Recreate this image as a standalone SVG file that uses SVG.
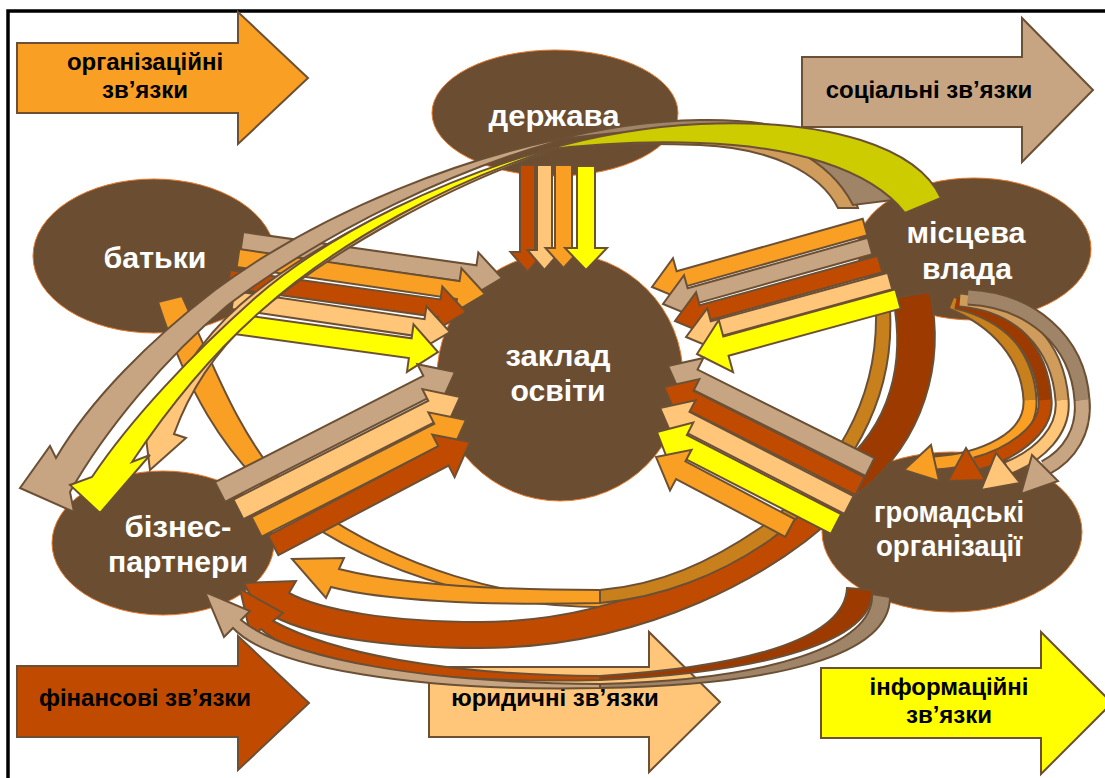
<svg xmlns="http://www.w3.org/2000/svg" width="1105" height="778" viewBox="0 0 1105 778">
<style>
.o{stroke:#6B5035;stroke-width:2;stroke-linejoin:miter}
.tan{fill:#C8A582}.org{fill:#F9A024}.dor{fill:#C04B00}.lor{fill:#FFC67A}.yel{fill:#FFFF00}
.ygr{fill:#CCCC00}.gtn{fill:#A08468}.lob{fill:#D09C5C}.gld{fill:#C8801C}.dob{fill:#9C3A00}
.node{fill:#6B4E31;stroke:#E8782A;stroke-width:1}
.nt{font-family:'Liberation Sans',Arial,sans-serif;font-weight:bold;font-size:30px;fill:#FFFFFF;text-anchor:middle}
.lt{font-family:'Liberation Sans',Arial,sans-serif;font-weight:bold;font-size:24px;fill:#000000;text-anchor:middle}
.sw{fill:none;stroke:#6B5035}
.sc{fill:none}
</style>
<rect x="0" y="0" width="1105" height="778" fill="#FFFFFF"/>
<path d="M8,780V11H1110" fill="none" stroke="#000000" stroke-width="3.5"/>

<g id="legend">
<g id="legend-org"><path class="o org" d="M17,43H238V12L308,78L238,144V113H17Z"/><text class="lt" x="145" y="70">організаційні</text><text class="lt" x="145" y="98">зв’язки</text></g>
<g id="legend-soc"><path class="o tan" d="M802,57H1022V18L1093,90L1022,162V127H802Z"/><text class="lt" x="929" y="98">соціальні зв’язки</text></g>
<g id="legend-fin"><path class="o dor" d="M17,666H238V636L309,703L238,770V737H17Z"/><text class="lt" x="145" y="706">фінансові зв’язки</text></g>
<g id="legend-jur"><path class="o lor" d="M429,667H649V632L720,702L649,772V737H429Z"/><text class="lt" x="555" y="706">юридичні зв’язки</text></g>
<g id="legend-inf"><path class="o yel" d="M821,668H1041V632L1112,703L1041,774V738H821Z"/><text class="lt" x="949" y="695">інформаційні</text><text class="lt" x="949" y="723">зв’язки</text></g>
</g>

<g id="node-derzhava"><ellipse class="node" cx="555" cy="113" rx="123" ry="63"/><text class="nt" x="554" y="126" textLength="131" lengthAdjust="spacingAndGlyphs">держава</text></g>
<g id="node-batky"><ellipse class="node" cx="154" cy="256" rx="121" ry="77"/><text class="nt" x="155" y="268" textLength="103" lengthAdjust="spacingAndGlyphs">батьки</text></g>
<g id="node-mistseva"><ellipse class="node" cx="974" cy="249" rx="117" ry="71"/><text class="nt" x="966" y="243" textLength="119" lengthAdjust="spacingAndGlyphs">місцева</text><text class="nt" x="967" y="279" textLength="90" lengthAdjust="spacingAndGlyphs">влада</text></g>
<g id="node-zaklad"><ellipse class="node" cx="560" cy="377" rx="123" ry="124"/><text class="nt" x="558" y="366" textLength="105" lengthAdjust="spacingAndGlyphs">заклад</text><text class="nt" x="558" y="401" textLength="95" lengthAdjust="spacingAndGlyphs">освіти</text></g>
<g id="node-biznes"><ellipse class="node" cx="163" cy="543" rx="111" ry="72"/><text class="nt" x="178" y="537" textLength="107" lengthAdjust="spacingAndGlyphs">бізнес-</text><text class="nt" x="178" y="572" textLength="140" lengthAdjust="spacingAndGlyphs">партнери</text></g>
<g id="node-hromadski"><ellipse class="node" cx="952" cy="532" rx="130" ry="80"/><text class="nt" x="949" y="522" textLength="150" lengthAdjust="spacingAndGlyphs">громадські</text><text class="nt" x="949" y="556" textLength="146" lengthAdjust="spacingAndGlyphs">організації</text></g>

<g id="connectors">
<g id="mv-go">
<path class="sw" stroke-width="15" d="M952,303C995,320 1028,355 1030,400C1032,440 980,460 935,463"/>
<path class="sc" stroke="#C8801C" stroke-width="11" d="M952,303C995,320 1028,355 1030,400"/>
<path class="sc" stroke="#F9A024" stroke-width="11" d="M1030,400C1032,440 980,460 935,463"/>
<path class="o org" d="M939,481L904,470L931,445Z"/>
<path class="sw" stroke-width="15" d="M956,302C1010,315 1042,350 1045,400C1048,430 1010,455 975,464"/>
<path class="sc" stroke="#9C3A00" stroke-width="11" d="M956,302C1010,315 1042,350 1045,400"/>
<path class="sc" stroke="#C04B00" stroke-width="11" d="M1045,400C1048,430 1010,455 975,464"/>
<path class="o dor" d="M985,480L948,481L966,448Z"/>
<path class="sw" stroke-width="15" d="M960,300C1020,305 1058,345 1062,400C1065,430 1040,455 1008,468"/>
<path class="sc" stroke="#D09C5C" stroke-width="11" d="M960,300C1020,305 1058,345 1062,400"/>
<path class="sc" stroke="#FFC67A" stroke-width="11" d="M1062,400C1065,430 1040,455 1008,468"/>
<path class="o lor" d="M1020,483L981,490L996,453Z"/>
<path class="sw" stroke-width="17" d="M968,297C1030,300 1078,340 1082,400C1085,430 1070,455 1045,468"/>
<path class="sc" stroke="#A08468" stroke-width="13" d="M968,297C1030,300 1078,340 1082,400"/>
<path class="sc" stroke="#C8A582" stroke-width="13" d="M1082,400C1085,430 1070,455 1045,468"/>
<path class="o tan" d="M1058,481L1021,494L1032,455Z"/>
</g>

<g id="bt-mv">
<path class="o org" d="M158,302L182,296C212,362 240,440 290,490C390,570 520,603 620,600C720,597 800,550 850,478L856,483C806,556 724,606 620,607C515,610 380,582 280,502C222,452 186,388 158,302Z"/>
</g>
<g id="mv-bp-dark">
<path class="o dob" d="M930,292C945,362 925,440 860,492L835,470C893,425 905,360 893,298Z"/>
<path class="o dor" d="M835,470C760,555 620,622 480,622C390,622 320,610 289,593L296,581L244,583L268,629L275,617C310,635 380,648 480,648C640,648 780,578 860,492Z"/>
</g>
<g id="mv-bp-orange">
<path class="o gld" d="M876,312L890,310C895,400 850,480 770,540C720,575 660,598 600,603L600,590C660,585 710,562 760,528C835,475 878,400 876,312Z"/>
<path class="o org" d="M600,590C480,590 390,582 339,569L344,558L292,559L326,598L331,587C380,600 480,606 600,603Z"/>
</g>

<g id="dz-zo">
<path class="o dor" transform="translate(527.5,165) rotate(90)" d="M0,-7.5H87V-17L107,0L87,17V7.5H0Z"/>
<path class="o lor" transform="translate(544.5,165) rotate(90)" d="M0,-7.5H85V-17L105,0L85,17V7.5H0Z"/>
<path class="o org" transform="translate(563.5,165) rotate(90)" d="M0,-8.5H83V-18L103,0L83,18V8.5H0Z"/>
<path class="o yel" transform="translate(586,166) rotate(90)" d="M0,-9H82V-21L104,0L82,21V9H0Z"/>
</g>
<g id="bt-zo">
<path class="o tan" transform="translate(242,241) rotate(8.1)" d="M0,-9H235.6V-22L262.6,0L235.6,22V9H0Z"/>
<path class="o org" transform="translate(238,258) rotate(8.29)" d="M0,-9H222.6V-22L249.6,0L222.6,22V9H0Z"/>
<path class="o dor" transform="translate(229,279) rotate(7.93)" d="M0,-9H212.3V-22L239.3,0L212.3,22V9H0Z"/>
<path class="o lor" transform="translate(233,300) rotate(8.39)" d="M0,-9H192.3V-22L219.3,0L192.3,22V9H0Z"/>
<path class="o yel" transform="translate(235,324) rotate(7.85)" d="M0,-10H176.9V-24L204.9,0L176.9,24V10H0Z"/>
</g>
<g id="mv-zo">
<path class="o org" transform="translate(865,227) rotate(164.27)" d="M0,-8.5H193.3V-22L221.3,0L193.3,22V8.5H0Z"/>
<path class="o tan" transform="translate(870,246) rotate(164.35)" d="M0,-8.5H187V-22L215,0L187,22V8.5H0Z"/>
<path class="o dor" transform="translate(880,264) rotate(164.46)" d="M0,-8.5H184.8V-22L212.8,0L184.8,22V8.5H0Z"/>
<path class="o lor" transform="translate(890,281) rotate(164.65)" d="M0,-8.5H183.5V-22L211.5,0L183.5,22V8.5H0Z"/>
<path class="o yel" transform="translate(898,299) rotate(164.7)" d="M0,-10H178.4V-27L208.4,0L178.4,27V10H0Z"/>
</g>
<g id="bp-zo">
<path class="o tan" transform="translate(220,492) rotate(-27.05)" d="M0,-11H233.9V-24L263.9,0L233.9,24V11H0Z"/>
<path class="o lor" transform="translate(238.4,509.4) rotate(-26.9)" d="M0,-11H218.5V-24L248.5,0L218.5,24V11H0Z"/>
<path class="o org" transform="translate(256.6,526.9) rotate(-27.04)" d="M0,-11H205.1V-24L235.1,0L205.1,24V11H0Z"/>
<path class="o dor" transform="translate(273.2,545.3) rotate(-27.7)" d="M0,-11H192.3V-24L222.3,0L192.3,24V11H0Z"/>
</g>
<g id="go-zo">
<path class="o tan" transform="translate(870,467) rotate(206.57)" d="M0,-10H197.8V-23L225.8,0L197.8,23V10H0Z"/>
<path class="o dor" transform="translate(860,486) rotate(206.8)" d="M0,-10H191.6V-23L219.6,0L191.6,23V10H0Z"/>
<path class="o lor" transform="translate(849,505) rotate(207.17)" d="M0,-10H184.4V-23L212.4,0L184.4,23V10H0Z"/>
<path class="o yel" transform="translate(836,524) rotate(207.2)" d="M0,-11H173.3V-25L201.3,0L173.3,25V11H0Z"/>
<path class="o org" transform="translate(790,528) rotate(207.9)" d="M0,-10H123.6V-23L151.6,0L123.6,23V10H0Z"/>
</g>

<g id="mv-bp-top">
<path class="o lob" d="M858,208C845,165 790,135 700,133C640,132 590,140 550,150C600,143 650,143 700,145C770,148 820,172 838,208Z"/>
<path class="o gtn" d="M893,200C872,150 800,118 700,120C640,121 590,131 555,140C600,134 650,129 700,128C775,130 830,160 853,205Z"/>
<path class="o ygr" d="M941,198C918,148 830,118 700,124C640,127 590,137 545,150C600,143 650,141 700,143C790,146 870,168 905,213Z"/>
<path class="o tan" d="M555,140C470,158 330,205 215,290C150,340 90,400 56,458L50,446L20,488L74,512L70,492C105,430 165,358 228,305C330,228 460,168 555,142Z"/>
<path class="o lor" d="M550,150C460,175 320,235 240,305C200,340 172,385 156,426L144,422L150,470L186,438L174,434C188,395 212,355 252,318C330,250 460,180 550,152Z"/>
<path class="o yel" d="M545,150C450,178 335,228 255,298C192,354 130,420 92,477L70,485L100,513L150,455L132,462C160,420 205,360 262,310C340,240 455,180 545,152Z"/>
</g>

<g id="go-bp">
<path class="o dob" d="M847,588L872,590C875,640 770,672 600,680L600,676C760,666 845,635 847,588Z"/>
<path class="o dor" d="M600,676C440,675 330,652 273,621L283,613L240,589L251,637L261,629C300,665 430,684 600,680Z"/>
<path class="o gtn" d="M872,594L890,597C890,655 780,685 600,688L600,684C770,680 875,645 872,594Z"/>
<path class="o tan" d="M600,684C430,683 290,660 241,620L250,611L205,592L224,637L233,628C270,668 420,692 600,688Z"/>
</g>
</g>
</svg>
